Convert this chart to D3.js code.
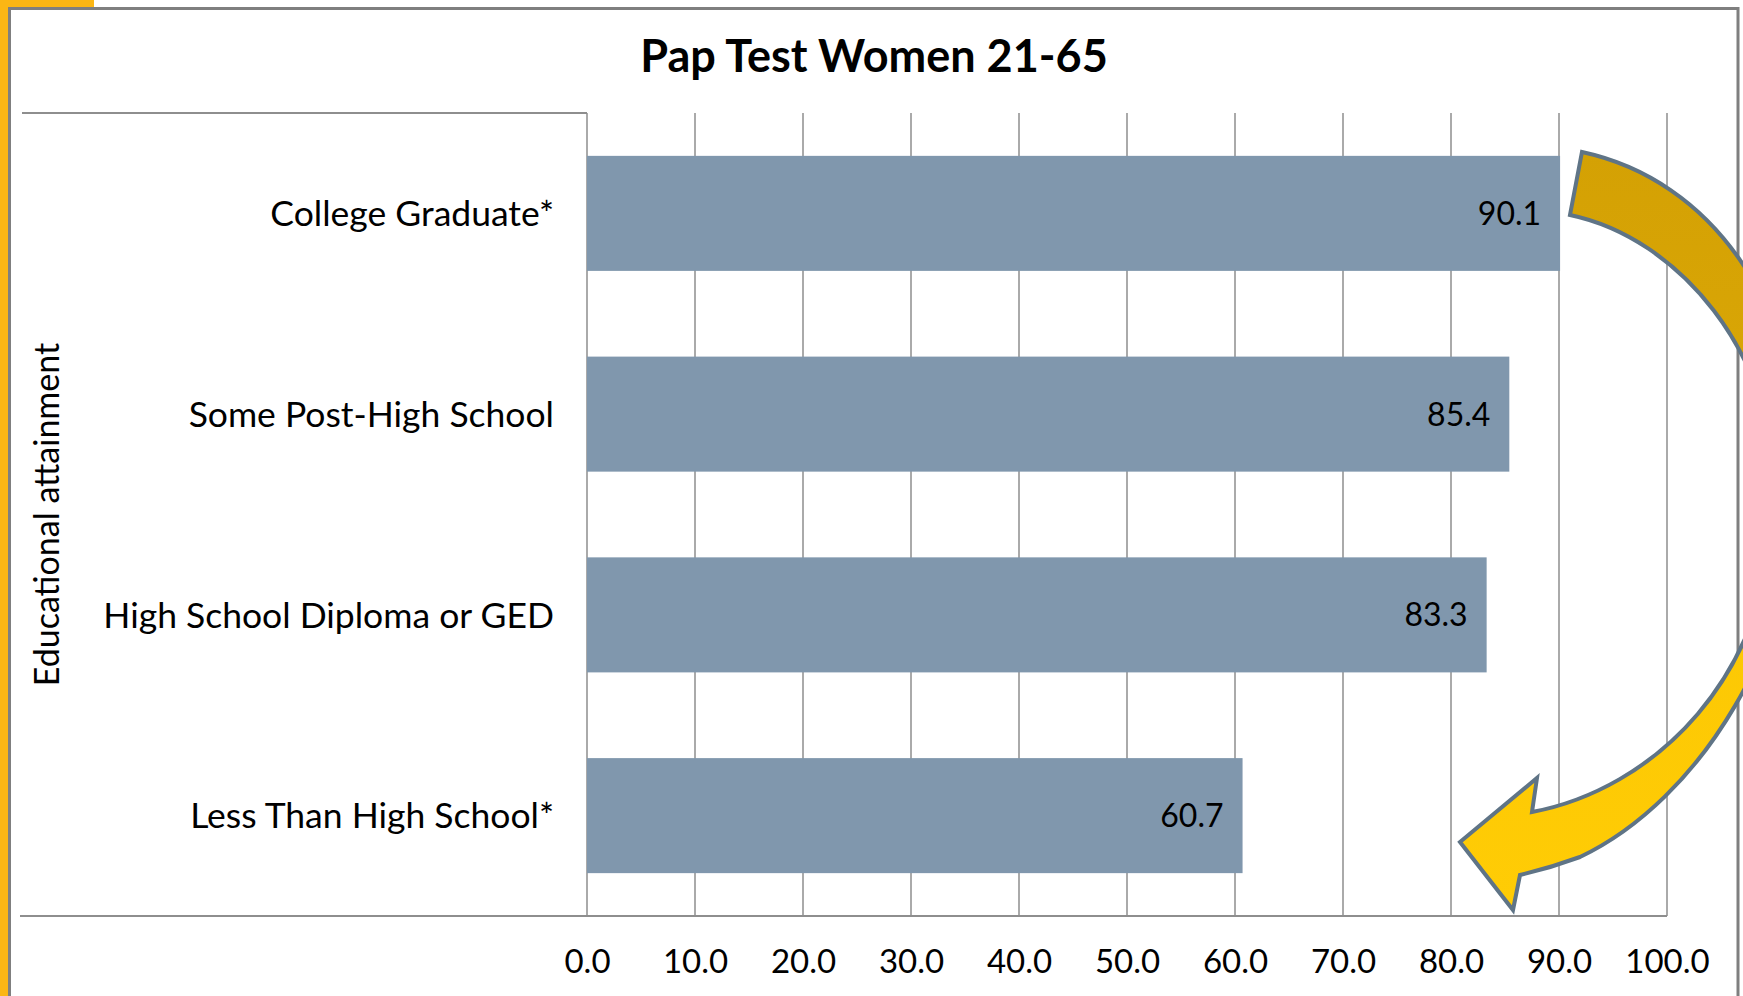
<!DOCTYPE html>
<html>
<head>
<meta charset="utf-8">
<script src="https://cdnjs.cloudflare.com/ajax/libs/d3/7.8.5/d3.min.js"></script>
<style>
  html, body { margin: 0; padding: 0; background: #fff; }
  #chart-container { width: 1743px; height: 996px; overflow: hidden; }
  text { font-family: Lato, "Open Sans", sans-serif; fill: #000; }
</style>
</head>
<body>
<div id="chart-container"></div>
<script>
(function() {
'use strict';

// data
const categories = ['College Graduate*', 'Some Post-High School', 'High School Diploma or GED', 'Less Than High School*'];
const values = [90.1, 85.4, 83.3, 60.7];
const tickValues = [0, 10, 20, 30, 40, 50, 60, 70, 80, 90, 100];
const chartTitle = 'Pap Test Women 21-65';
const axisTitle = 'Educational attainment';

const chart = '#chart-container';

const W = 1743;
const H = 996;

const PLOT = { left: 587, right: 1667, top: 113, bottom: 916 };

const BAR_COLOR = '#8097ad';
const GRID_COLOR = '#8e8e8e';

const svg = d3.select(chart)
  .append('svg')
    .attr('width', W)
    .attr('height', H);

// slide background peeking out on the left
svg.append('rect')
  .attr('x', 0).attr('y', 0)
  .attr('width', 10).attr('height', H)
  .attr('fill', '#fbb614');
svg.append('rect')
  .attr('x', 0).attr('y', 0)
  .attr('width', 94).attr('height', 9)
  .attr('fill', '#fbb614');

// chart frame
svg.append('rect')
  .attr('x', 9.5).attr('y', 8.5)
  .attr('width', 1738 - 9.5).attr('height', H + 20)
  .attr('fill', '#fff')
  .attr('stroke', '#7f7f7f')
  .attr('stroke-width', 3);

const xScale = d3.scaleLinear()
  .domain([0, 100])
  .range([PLOT.left, PLOT.right]);

const yScale = d3.scaleBand()
  .domain(categories)
  .range([PLOT.top, PLOT.bottom])
  .paddingInner(0.427)
  .paddingOuter(0.2135);

// gridlines
svg.append('g')
  .selectAll('line')
  .data(tickValues)
  .enter()
  .append('line')
    .attr('x1', (d) => xScale(d))
    .attr('x2', (d) => xScale(d))
    .attr('y1', PLOT.top)
    .attr('y2', PLOT.bottom)
    .attr('stroke', GRID_COLOR)
    .attr('stroke-width', 1.5);

// category axis border lines
svg.append('line')
  .attr('x1', 22).attr('x2', PLOT.left)
  .attr('y1', PLOT.top).attr('y2', PLOT.top)
  .attr('stroke', GRID_COLOR)
  .attr('stroke-width', 2);

svg.append('line')
  .attr('x1', 20).attr('x2', PLOT.right)
  .attr('y1', PLOT.bottom).attr('y2', PLOT.bottom)
  .attr('stroke', GRID_COLOR)
  .attr('stroke-width', 2);

// bars
svg.selectAll('rect.bar')
  .data(values)
  .enter()
  .append('rect')
    .attr('class', 'bar')
    .attr('x', xScale(0))
    .attr('y', (d, i) => yScale(categories[i]))
    .attr('width', (d) => xScale(d) - xScale(0))
    .attr('height', yScale.bandwidth())
    .attr('fill', BAR_COLOR);

// value labels
svg.selectAll('text.value')
  .data(values)
  .enter()
  .append('text')
    .attr('class', 'value')
    .attr('x', (d) => xScale(d) - 19)
    .attr('y', (d, i) => yScale(categories[i]) + yScale.bandwidth() / 2)
    .attr('dy', '0.36em')
    .attr('text-anchor', 'end')
    .style('font-size', '32px')
    .text((d) => d.toFixed(1));

// x axis labels
const xAxis = d3.axisBottom(xScale)
  .tickValues(tickValues)
  .tickSize(0)
  .tickPadding(0)
  .tickFormat((d) => d.toFixed(1));

const xAxisG = svg.append('g')
  .attr('id', 'x-axis')
  .attr('transform', `translate(0, ${PLOT.bottom})`)
  .call(xAxis);
xAxisG.select('.domain').remove();
xAxisG.selectAll('text')
  .attr('y', 45)
  .attr('dy', '0.36em')
  .style('font-family', 'Lato, sans-serif')
  .style('font-size', '33px')
  .attr('fill', '#000');

// category labels
const yAxis = d3.axisLeft(yScale)
  .tickSize(0)
  .tickPadding(0);

const yAxisG = svg.append('g')
  .attr('id', 'y-axis')
  .attr('transform', `translate(${PLOT.left - 33}, 0)`)
  .call(yAxis);
yAxisG.select('.domain').remove();
yAxisG.selectAll('text')
  .attr('dy', '0.36em')
  .style('font-family', 'Lato, sans-serif')
  .style('font-size', '35.5px')
  .attr('fill', '#000');

// axis title
svg.append('text')
  .attr('transform', `translate(59, ${(PLOT.top + PLOT.bottom) / 2}) rotate(-90)`)
  .attr('text-anchor', 'middle')
  .style('font-size', '34px')
  .text(axisTitle);

// chart title
svg.append('text')
  .attr('x', 874)
  .attr('y', 72)
  .attr('text-anchor', 'middle')
  .style('font-size', '45px')
  .style('font-weight', 'bold')
  .text(chartTitle);

// curved call-out arrow
const defs = svg.append('defs');
const grad = defs.append('linearGradient')
  .attr('id', 'arrow-fill')
  .attr('gradientUnits', 'userSpaceOnUse')
  .attr('x1', 0).attr('y1', 150)
  .attr('x2', 0).attr('y2', 910);
grad.append('stop').attr('offset', '0').attr('stop-color', '#d4a104');
grad.append('stop').attr('offset', '0.45').attr('stop-color', '#dba806');
grad.append('stop').attr('offset', '0.6').attr('stop-color', '#fcc804');
grad.append('stop').attr('offset', '1').attr('stop-color', '#ffcc05');

const arrowPath = d3.path();
arrowPath.moveTo(1582, 152);
arrowPath.bezierCurveTo(1712, 180, 1800, 305, 1800, 470);
arrowPath.bezierCurveTo(1800, 640, 1700, 800, 1580, 857);
arrowPath.quadraticCurveTo(1550, 868, 1520, 875);
arrowPath.lineTo(1513, 910);
arrowPath.lineTo(1460, 842);
arrowPath.lineTo(1537, 778);
arrowPath.lineTo(1532, 812);
arrowPath.bezierCurveTo(1650, 790, 1775, 680, 1775, 490);
arrowPath.bezierCurveTo(1775, 355, 1680, 238, 1570, 215);
arrowPath.closePath();

svg.append('path')
  .attr('d', arrowPath.toString())
  .attr('fill', 'url(#arrow-fill)')
  .attr('stroke', '#5f7486')
  .attr('stroke-width', 4)
  .attr('stroke-linejoin', 'miter');

})()
</script>
</body>
</html>
